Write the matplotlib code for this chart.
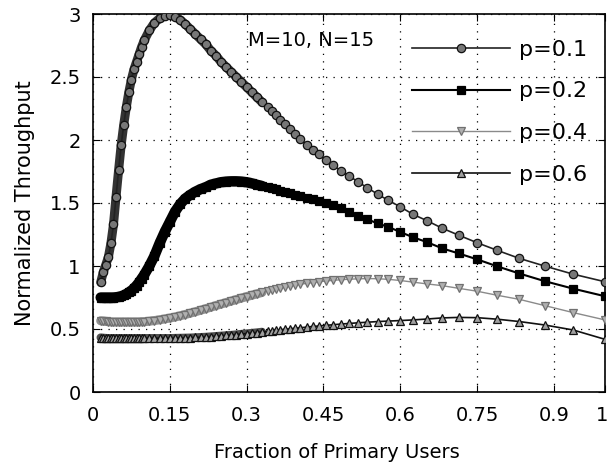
import matplotlib
matplotlib.use("Agg")
import matplotlib.pyplot as plt
import matplotlib.transforms as mtransforms
import numpy as np

plt.rcParams.update({
    "font.family": ["DejaVu Sans"],
    "font.size": 14,
    "xtick.direction": "in", "ytick.direction": "in",
    "xtick.top": True, "ytick.right": True,
    "xtick.major.size": 5, "ytick.major.size": 5,
    "axes.linewidth": 1.2,
})

# fraction of primary users (dense on the left, sparse on the right)
x = [0.015, 0.02, 0.025, 0.03, 0.035, 0.04, 0.045, 0.05, 0.055, 0.06,
     0.065, 0.07, 0.075, 0.08, 0.085, 0.09, 0.095, 0.10, 0.11, 0.12,
     0.13, 0.14, 0.15, 0.16, 0.17, 0.18, 0.19, 0.20, 0.21, 0.22,
     0.23, 0.24, 0.25, 0.26, 0.27, 0.28, 0.29, 0.30, 0.31, 0.32,
     0.33, 0.341, 0.349, 0.357, 0.366, 0.375, 0.385, 0.395, 0.405, 0.417,
     0.429, 0.441, 0.455, 0.469, 0.484, 0.5, 0.517, 0.536, 0.556, 0.577,
     0.6, 0.625, 0.652, 0.682, 0.714, 0.75, 0.789, 0.833, 0.882, 0.938,
     1.0]

p01 = [0.87, 0.95, 1.01, 1.07, 1.18, 1.33, 1.55, 1.76, 1.96, 2.12,
       2.26, 2.38, 2.48, 2.56, 2.62, 2.68, 2.74, 2.79, 2.87, 2.93,
       2.965, 2.985, 2.99, 2.98, 2.955, 2.92, 2.88, 2.84, 2.80, 2.76,
       2.71, 2.67, 2.62, 2.58, 2.54, 2.50, 2.46, 2.42, 2.38, 2.34,
       2.30, 2.26, 2.23, 2.20, 2.16, 2.13, 2.09, 2.05, 2.01, 1.96,
       1.92, 1.885, 1.84, 1.80, 1.755, 1.715, 1.67, 1.62, 1.57, 1.52,
       1.47, 1.41, 1.36, 1.30, 1.245, 1.185, 1.125, 1.06, 1.0, 0.935,
       0.875]

p02 = [0.75, 0.75, 0.75, 0.75, 0.75, 0.75, 0.752, 0.755, 0.76, 0.767,
       0.778, 0.79, 0.805, 0.823, 0.845, 0.87, 0.90, 0.93, 1.00, 1.08,
       1.18, 1.27, 1.35, 1.43, 1.49, 1.535, 1.565, 1.59, 1.61, 1.625,
       1.645, 1.655, 1.665, 1.67, 1.672, 1.672, 1.67, 1.665, 1.656, 1.645,
       1.635, 1.625, 1.617, 1.608, 1.598, 1.587, 1.576, 1.564, 1.552, 1.54,
       1.53, 1.515, 1.50, 1.482, 1.46, 1.43, 1.40, 1.37, 1.338, 1.31,
       1.27, 1.228, 1.19, 1.14, 1.10, 1.053, 0.998, 0.94, 0.88, 0.82,
       0.76]

p04 = [0.565, 0.562, 0.56, 0.558, 0.556, 0.555, 0.555, 0.555, 0.555, 0.555,
       0.555, 0.555, 0.555, 0.555, 0.555, 0.555, 0.557, 0.558, 0.562, 0.567,
       0.573, 0.58, 0.587, 0.595, 0.605, 0.615, 0.626, 0.637, 0.649, 0.661,
       0.673, 0.686, 0.698, 0.71, 0.722, 0.734, 0.746, 0.757, 0.768, 0.779,
       0.79, 0.80, 0.808, 0.816, 0.824, 0.832, 0.84, 0.848, 0.855, 0.862,
       0.869, 0.875, 0.881, 0.886, 0.891, 0.895, 0.898, 0.90, 0.899, 0.894,
       0.885, 0.872, 0.858, 0.844, 0.823, 0.80, 0.768, 0.735, 0.686, 0.63,
       0.572]

p06 = [0.432, 0.43, 0.428, 0.427, 0.427, 0.427, 0.427, 0.427, 0.427, 0.427,
       0.427, 0.427, 0.427, 0.427, 0.427, 0.427, 0.427, 0.427, 0.427, 0.427,
       0.427, 0.427, 0.427, 0.428, 0.429, 0.43, 0.431, 0.433, 0.435, 0.437,
       0.44, 0.443, 0.446, 0.449, 0.452, 0.456, 0.46, 0.464, 0.468, 0.472,
       0.477, 0.482, 0.486, 0.49, 0.494, 0.498, 0.502, 0.506, 0.51, 0.515,
       0.52, 0.524, 0.529, 0.534, 0.539, 0.544, 0.549, 0.554, 0.559, 0.563,
       0.567, 0.572, 0.579, 0.588, 0.592, 0.59, 0.578, 0.559, 0.532, 0.492,
       0.418]

labels = ["p=0.1", "p=0.2", "p=0.4", "p=0.6"]
xticks = [0, 0.15, 0.3, 0.45, 0.6, 0.75, 0.9, 1]
xticklabels = ["0", "0.15", "0.3", "0.45", "0.6", "0.75", "0.9", "1"]
yticks = [0, 0.5, 1, 1.5, 2, 2.5, 3]
yticklabels = ["0", "0.5", "1", "1.5", "2", "2.5", "3"]

# (line colour, line width, marker, marker face, marker edge, band colour, band width)
styles = [
    ("#222222", 1.2, "o", "#777777", "#111111", "#333333", 6.5),
    ("#000000", 1.5, "s", "#000000", "#000000", "#000000", 7.5),
    ("#8a8a8a", 1.0, "v", "#b0b0b0", "#707070", "#8f8f8f", 6.5),
    ("#111111", 1.2, "^", "#a0a0a0", "#111111", "#505050", 6.0),
]

fig = plt.figure(figsize=(6.08, 4.74), dpi=100)
ax = fig.add_axes([93 / 608, 1 - 392 / 474, 512 / 608, 378 / 474])

xa = np.array(x)
dense = xa <= 0.33
for ys, lab, (lc, lw, mk, mf, me, bc, bw) in zip([p01, p02, p04, p06], labels, styles):
    ya = np.array(ys)
    # markers are packed so tightly on the left that they merge into a band
    ax.plot(xa[dense], ya[dense], color=bc, lw=bw, solid_capstyle="round",
            zorder=2, label="_nolegend_")
    ax.plot(xa, ya, color=lc, lw=lw, marker=mk, ms=6, mfc=mf, mec=me,
            mew=0.9, zorder=3, label=lab)

ax.set_xlim(0, 1)
ax.set_ylim(0, 3)
ax.set_xticks(xticks)
ax.set_xticklabels(xticklabels)
ax.set_yticks(yticks)
ax.set_yticklabels(yticklabels)
ax.tick_params(axis="x", pad=10, labelsize=14)
ax.tick_params(axis="y", pad=9, labelsize=14)
# keep the last x label inside the canvas
last = ax.get_xticklabels()[-1]
last.set_transform(last.get_transform()
                   + mtransforms.ScaledTranslation(-3 / 100, 0, fig.dpi_scale_trans))
ax.grid(True, color="black", linestyle=(0, (1, 5)), linewidth=0.9)

ax.set_xlabel("Fraction of Primary Users", fontsize=14)
ax.xaxis.set_label_coords(0.477, -0.135)
ax.set_ylabel("Normalized Throughput", fontsize=15, labelpad=10)

ax.text(0.302, 2.79, "M=10, N=15", fontsize=14, va="center", ha="left")

ax.legend(loc="upper left", bbox_to_anchor=(0.623, 0.932), frameon=False,
          handlelength=4.4, labelspacing=0.98, numpoints=1, fontsize=16,
          handletextpad=0.4, borderaxespad=0, borderpad=0)

fig.savefig("out.png", dpi=100)
